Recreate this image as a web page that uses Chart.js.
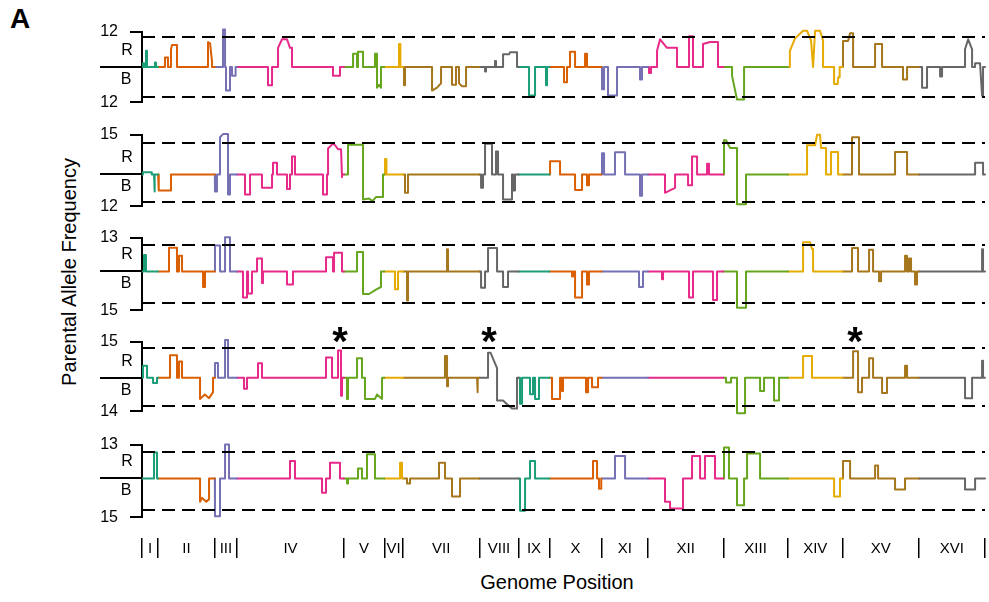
<!DOCTYPE html>
<html>
<head>
<meta charset="utf-8">
<script src="https://cdn.jsdelivr.net/npm/chart.js@4.4.1/dist/chart.umd.min.js"></script>
<style>
  body { margin: 0; background: #fff; }
  #wrap { position: relative; width: 989px; height: 602px; overflow: hidden; font-family: "Liberation Sans", Arial, sans-serif; color: #000; }
  canvas { position: absolute; left: 0; }
  .label { position: absolute; white-space: nowrap; }
  #panelA { left: 10px; top: 3px; font-size: 28px; font-weight: bold; }
  #ytitle { left: 69px; top: 272px; font-size: 20px; transform: translate(-50%, -50%) rotate(-90deg); }
  #xtitle { left: 557px; top: 582px; font-size: 20px; transform: translate(-50%, -50%); }
</style>
</head>
<body>
<div id="wrap">
  <div class="label" id="panelA">A</div>
  <div class="label" id="ytitle">Parental Allele Frequency</div>
  <div class="label" id="xtitle">Genome Position</div>
</div>
<script>
// Chromosomes (yeast), lengths in kb
const chromosomes = ['I', 'II', 'III', 'IV', 'V', 'VI', 'VII', 'VIII', 'IX', 'X', 'XI', 'XII', 'XIII', 'XIV', 'XV', 'XVI'];
const chromLengthsKb = [230, 813, 317, 1532, 577, 270, 1091, 563, 440, 746, 667, 1078, 924, 784, 1091, 948];
const chromColors = ['#1b9e77', '#d95f02', '#7570b3', '#e7298a', '#66a61e', '#e6ab02', '#a6761d', '#666666'];

// Axis end counts per panel (R on top, B below)
const panelTopCounts = [12, 15, 13, 15, 13];
const panelBottomCounts = [12, 12, 15, 14, 15];
// Dashed threshold lines per panel
const thresholdUp = [10.2, 11.9, 10.1, 12.2, 10.1];
const thresholdDown = [-10.2, -10.4, -12.1, -11.6, -12.1];

// Peaks: [x1, v1, x2, v2, ...] genome position (kb) and count; line rises from 0 at x1 and falls to 0 at the last x
const panel1Peaks = [
  [14, 1.3, 29, 1.3], [57, 5.5, 72, 5.5], [186, 1.5, 200, 1.5],
  [329, 3.2, 372, 3.2], [415, 6, 430, 7.5, 501, 7.5], [945, 8.4, 975, 8, 1002, 2],
  [1160, 12.7, 1189, 12.7], [1203, -8, 1260, -8], [1289, -3, 1340, -3],
  [1804, -6.2, 1862, -6.2], [1948, 6.5, 2005, 9.4, 2076, 9.4, 2119, 6.5, 2148, 6.5], [2735, -3, 2835, -3],
  [3022, 4.5, 3079, 4.5], [3093, 5.2, 3165, 5.2], [3336, 4.5, 3365, 4.5, 3365, -7, 3394, -6, 3422, -7],
  [3680, 7.8, 3700, 7.8],
  [3752, -6.2, 3766, -6.2], [4153, -8, 4225, -7, 4282, -5.5], [4439, -6, 4496, -6], [4539, -5.5, 4582, -6.5, 4640, -6.5],
  [4912, -1.5, 4926, -1.5], [5055, 2, 5069, 2], [5170, 4.3, 5255, 4.3, 5270, 5, 5370, 5],
  [5542, -9.7, 5628, -9.7], [5785, -6.2, 5800, -6.2],
  [6043, -5.2, 6086, -5.2], [6129, 5.2, 6201, 5.2], [6344, 4.5, 6372, 4.5],
  [6587, -7.5, 6616, -7.5], [6673, -9.7, 6802, -9.7], [7131, -4.2, 7160, -4.2],
  [7260, -2, 7289, -2], [7375, 5.5, 7418, 9.4, 7518, 6.5, 7661, 6.5], [7833, 10.4, 7890, 10.4], [8033, 7.8, 8134, 8.5, 8248, 8.5],
  [8449, -3, 8520, -11, 8621, -11],
  [9277, 5.5, 9351, 9.7, 9466, 12.3, 9523, 12.3, 9580, 9, 9609, 0, 9638, 12.3, 9709, 12.3, 9752, 9], [9910, -5.8, 9960, -5.8, 9970, -3.5, 9990, -3.5],
  [10038, 8.8, 10110, 8.8, 10139, 11.4, 10182, 11.4], [10497, 7.8, 10597, 7.8], [10897, -4.2, 10955, -4.2],
  [11170, -7, 11241, -7], [11428, -3.2, 11456, -3.2], [11785, 6, 11830, 9.4, 11886, 6], [11929, 1.3, 12000, 1.3, 12029, -9.7, 12043, -9.7]
];

const panel2Peaks = [
  [14, 0.8, 140, 0.8], [172, -6.4, 186, -6.4],
  [240, -6, 415, -6],
  [1045, -6.4, 1074, -6.4], [1117, 14, 1160, 15.2, 1232, 15.2, 1232, -7.5, 1260, -7.5],
  [1475, -7.5, 1547, -7.5], [1718, -5, 1862, -5], [1876, 4.4, 1933, 4.4], [2076, -5.5, 2119, -5.5], [2148, 6.8, 2191, 6.8],
  [2592, -7.5, 2649, -7.5], [2664, 9.8, 2735, 11.6, 2764, 11, 2807, 9.5, 2850, 9.5, 2864, -1],
  [2950, 11.2, 3165, 11.2, 3165, -9.4, 3250, -9, 3300, -10, 3350, -8.5, 3451, -8.5],
  [3480, 5.8, 3500, 5.8],
  [3766, -6.9, 3809, -6.9],
  [4855, -5, 4883, -5], [4912, 11.6, 5012, 11.6], [5069, 8.6, 5098, 8.6], [5170, -9.4, 5298, -9.4], [5313, -6, 5341, -6],
  [5843, 5, 5986, 5], [6201, -5.8, 6301, -5.8], [6372, -4, 6401, -4],
  [6587, 8, 6616, 8], [6773, 8.4, 6917, 8.4], [7131, -8, 7160, -8],
  [7489, -6.9, 7560, -6, 7633, -5], [7819, -4, 7876, -4, 7876, 6.8, 7948, 6.8], [8091, 4, 8119, 4],
  [8334, 12.9, 8363, 12.9, 8420, 10, 8520, 10, 8520, -11.2, 8649, -11.2],
  [9523, 11, 9638, 11, 9666, 14.9, 9709, 14.9, 9723, 10, 9795, 10], [9866, 8.5, 9967, 8.5],
  [10167, 14, 10267, 14], [10783, 8.5, 10955, 8.5],
  [11929, 4.4, 12043, 4.4]
];

const panel3Peaks = [
  [29, 6.3, 57, 6.3],
  [387, 9.1, 501, 9.1], [530, 6, 573, 6], [874, -6, 902, -6],
  [1045, 10, 1117, 10], [1189, 13.1, 1260, 13.1],
  [1446, -10, 1504, -10], [1518, -8.5, 1575, -8.5], [1647, 5, 1718, 5, 1718, -4.5, 1733, -4.5], [2076, -5, 2162, -5],
  [2635, 5.4, 2735, 5.4], [2750, 7.2, 2864, 7.2],
  [3079, 7.5, 3165, 7.5, 3165, -8.7, 3250, -8.7, 3350, -7, 3422, -6],
  [3623, -6.9, 3666, -6.9],
  [3795, -11.2, 3809, -11.2], [4368, 8.5, 4382, 8.5],
  [4855, -6.3, 4912, -6.3], [4955, 9, 5084, 9], [5170, -6, 5241, -6],
  [6158, -2, 6172, -2], [6201, -10, 6301, -10], [6372, -5, 6401, -5],
  [7117, -6, 7174, -6],
  [7446, -3, 7461, -3], [7833, -10, 7890, -10], [8176, -11, 8234, -11],
  [8520, -14, 8649, -14],
  [9466, 11.2, 9566, 11.2, 9594, 8.6, 9609, 8.6],
  [10167, 9, 10253, 9], [10411, 8.3, 10468, 8.3], [10554, -3.8, 10583, -3.8], [10926, 6, 10955, 6], [10983, 5, 11012, 5], [11069, -5, 11098, -5],
  [12029, 8.5, 12043, 8.5]
];

const panel4Peaks = [
  [14, 5, 72, 5], [158, -2.2, 215, -2.2],
  [401, 9.3, 501, 9.3], [530, 6.7, 573, 6.7], [831, -8.8, 900, -7, 960, -8.5, 1017, -6],
  [1045, 6.1, 1088, 6.1], [1189, 15.7, 1232, 15.7],
  [1461, -4.6, 1504, -4.6], [1661, 6, 1718, 6], [2635, 8.4, 2721, 8.4], [2807, 11.3, 2850, 11.3, 2850, -7.5, 2864, -7.5],
  [2936, -8.8, 2950, -8.8], [3079, 8.1, 3150, 8.1], [3193, -8.8, 3336, -8.8, 3365, -7, 3437, -8.8],
  [4339, 9, 4368, 9, 4368, -3.5, 4382, -3.5], [4797, -6, 4811, -6],
  [4955, 10.4, 4990, 10.4, 5084, 4, 5084, -9.5, 5170, -9.5, 5227, -11, 5298, -12.8, 5370, -12.8],
  [5413, -10.8, 5442, -10.8], [5556, -6.9, 5599, -6.9], [5628, -8.8, 5685, -8.8],
  [5871, -8.8, 5986, -8.8], [6014, -5.5, 6029, -5.5], [6358, -6, 6387, -6], [6444, -4, 6530, -4],
  [8363, -2, 8435, -2], [8520, -14.8, 8635, -14.8], [8850, -5.5, 8907, -5.5], [9050, -9.5, 9122, -9.5],
  [9466, 9, 9594, 9],
  [10182, 11, 10253, 11, 10253, -6, 10310, -6], [10411, 8.1, 10468, 8.1], [10597, -6.4, 10668, -6.4], [10926, 5, 10955, 5],
  [11785, -8.5, 11886, -8.5], [12029, 7, 12043, 7]
];

const panel5Peaks = [
  [172, 10, 215, 10],
  [831, -9, 860, -7.5, 920, -9, 960, -8],
  [1045, -14.6, 1117, -14.6], [1189, 13, 1246, 13],
  [2119, 6.7, 2191, 6.7], [2578, -5.5, 2635, -5.5], [2692, 6, 2835, 6],
  [2936, -2, 2950, -2], [3093, 3.8, 3150, 3.8], [3222, 9.3, 3336, 9.3],
  [3695, 6, 3723, 6],
  [3795, -2, 3838, -2], [4253, 6, 4339, 6], [4439, -7, 4554, -7],
  [5413, -12.4, 5485, -12.4], [5556, 6.7, 5628, 6.7],
  [6458, 6.7, 6516, 6.7], [6544, -4, 6573, -4],
  [6773, 8.6, 6917, 8.6],
  [7489, -9, 7561, -9, 7561, -11.6, 7747, -11.6], [7876, 8.6, 7991, 8.6], [8062, 8.6, 8205, 8.6],
  [8334, 11.9, 8405, 11.9], [8520, -10.3, 8621, -10.3], [8664, 9.6, 8850, 9.6],
  [9910, -7, 9995, -7],
  [10038, 6.7, 10139, 6.7], [10497, 5, 10540, 5], [10783, -4.3, 10926, -4.3],
  [11785, -4.3, 11929, -4.3]
];

const panelPeaks = [panel1Peaks, panel2Peaks, panel3Peaks, panel4Peaks, panel5Peaks];

// Asterisks (panel 4), genome position in kb
const asteriskPanel = 3;
const asteriskKb = [2835, 4970, 10210];

// Layout: pixel rows of the axis brackets of each panel
const panelRows = [[30, 104], [133, 208], [236, 312], [340, 413], [443, 519]];
const PAD = 20;
const FONT = '"Liberation Sans", Arial, sans-serif';

const chromStarts = [];
let acc = 0;
chromLengthsKb.forEach(len => { chromStarts.push(acc); acc += len; });
const GENOME_KB = acc;

function buildDatasets(peaks) {
  return chromosomes.map((name, i) => {
    const start = chromStarts[i];
    const end = start + chromLengthsKb[i];
    const pts = [{ x: start, y: 0 }];
    peaks.filter(p => p[0] >= start && p[0] < end)
      .sort((a, b) => a[0] - b[0])
      .forEach(p => {
        pts.push({ x: p[0], y: 0 });
        for (let k = 0; k < p.length; k += 2) pts.push({ x: p[k], y: p[k + 1] });
        pts.push({ x: p[p.length - 2], y: 0 });
      });
    pts.push({ x: end, y: 0 });
    return {
      label: name,
      data: pts,
      borderColor: chromColors[i % chromColors.length],
      borderWidth: 2,
      borderJoinStyle: 'round',
      borderCapStyle: 'round',
      pointRadius: 0,
      tension: 0,
      clip: false
    };
  });
}

function panelDecor(idx) {
  return {
    id: 'panelDecor' + idx,
    afterDatasetsDraw(chart) {
      const { ctx, chartArea } = chart;
      const y = chart.scales.y;
      const x = chart.scales.x;
      const y0 = Math.round(y.getPixelForValue(0));
      ctx.save();
      ctx.strokeStyle = '#000';
      ctx.lineWidth = 2;
      // dashed thresholds
      ctx.setLineDash([13, 7]);
      [thresholdUp[idx], thresholdDown[idx]].forEach(v => {
        const py = Math.round(y.getPixelForValue(v));
        ctx.beginPath();
        ctx.moveTo(chartArea.left, py);
        ctx.lineTo(chartArea.right, py);
        ctx.stroke();
      });
      ctx.setLineDash([]);
      // zero line left of the axis
      ctx.beginPath();
      ctx.moveTo(chartArea.left - 42, y0);
      ctx.lineTo(chartArea.left, y0);
      ctx.stroke();
      ctx.fillStyle = '#000';
      ctx.font = '16px ' + FONT;
      ctx.textAlign = 'center';
      ctx.textBaseline = 'middle';
      ctx.fillText('R', chartArea.left - 15, y0 - 16);
      ctx.fillText('B', chartArea.left - 16, y0 + 13);
      if (idx === asteriskPanel) {
        ctx.font = 'bold 40px ' + FONT;
        ctx.textBaseline = 'alphabetic';
        const m = ctx.measureText('*');
        const topPx = y.getPixelForValue(panelTopCounts[idx]) - 7;
        const base = topPx + (m.actualBoundingBoxAscent - m.actualBoundingBoxDescent) / 2;
        asteriskKb.forEach(kb => ctx.fillText('*', x.getPixelForValue(kb), base));
      }
      ctx.restore();
    }
  };
}

const wrap = document.getElementById('wrap');

panelPeaks.forEach((peaks, idx) => {
  const [rowTop, rowBottom] = panelRows[idx];
  const canvas = document.createElement('canvas');
  canvas.width = 989;
  canvas.height = rowBottom - rowTop + 2 * PAD;
  canvas.style.top = (rowTop - PAD) + 'px';
  wrap.appendChild(canvas);

  const top = panelTopCounts[idx];
  const bottom = panelBottomCounts[idx];

  new Chart(canvas, {
    type: 'line',
    data: { datasets: buildDatasets(peaks) },
    options: {
      responsive: false,
      animation: false,
      events: [],
      layout: { padding: { left: 100, right: 4, top: PAD, bottom: PAD } },
      plugins: { legend: { display: false }, tooltip: { enabled: false } },
      scales: {
        x: { type: 'linear', min: 0, max: GENOME_KB, display: false },
        y: {
          type: 'linear',
          min: -bottom,
          max: top,
          position: 'left',
          afterBuildTicks: s => { s.ticks = [{ value: -bottom }, { value: top }]; },
          afterFit: s => { s.width = 42; },
          ticks: {
            autoSkip: false,
            padding: 12,
            color: '#000',
            font: { family: FONT, size: 16 },
            callback: v => String(Math.abs(v))
          },
          grid: { drawOnChartArea: false, tickLength: 12, color: '#000', lineWidth: 2 },
          border: { color: '#000', width: 2 }
        }
      }
    },
    plugins: [panelDecor(idx)]
  });
});

// Bottom axis: boundary ticks and chromosome labels
const axisTickValues = [];
const axisTickLabels = [];
chromosomes.forEach((name, i) => {
  axisTickValues.push(chromStarts[i]);
  axisTickLabels.push('');
  axisTickValues.push(chromStarts[i] + chromLengthsKb[i] / 2);
  axisTickLabels.push(name);
});
axisTickValues.push(GENOME_KB);
axisTickLabels.push('');

const axisCanvas = document.createElement('canvas');
axisCanvas.width = 989;
axisCanvas.height = 60;
axisCanvas.style.top = '518px';
wrap.appendChild(axisCanvas);

new Chart(axisCanvas, {
  type: 'line',
  data: { datasets: [{ data: [] }] },
  options: {
    responsive: false,
    animation: false,
    events: [],
    layout: { padding: { left: 142, right: 4 } },
    plugins: { legend: { display: false }, tooltip: { enabled: false } },
    scales: {
      x: {
        type: 'linear',
        min: 0,
        max: GENOME_KB,
        position: 'bottom',
        afterBuildTicks: s => { s.ticks = axisTickValues.map(v => ({ value: v })); },
        afterFit: s => { s.height = 40; },
        border: { display: false },
        grid: {
          drawOnChartArea: false,
          tickLength: 20,
          lineWidth: 1.5,
          color: c => (c.index % 2 === 0 ? '#000' : 'rgba(0,0,0,0)')
        },
        ticks: {
          autoSkip: false,
          maxRotation: 0,
          padding: -18,
          color: '#000',
          font: { family: FONT, size: 15 },
          callback: (v, i) => axisTickLabels[i]
        }
      },
      y: { display: false }
    }
  }
});
</script>
</body>
</html>
